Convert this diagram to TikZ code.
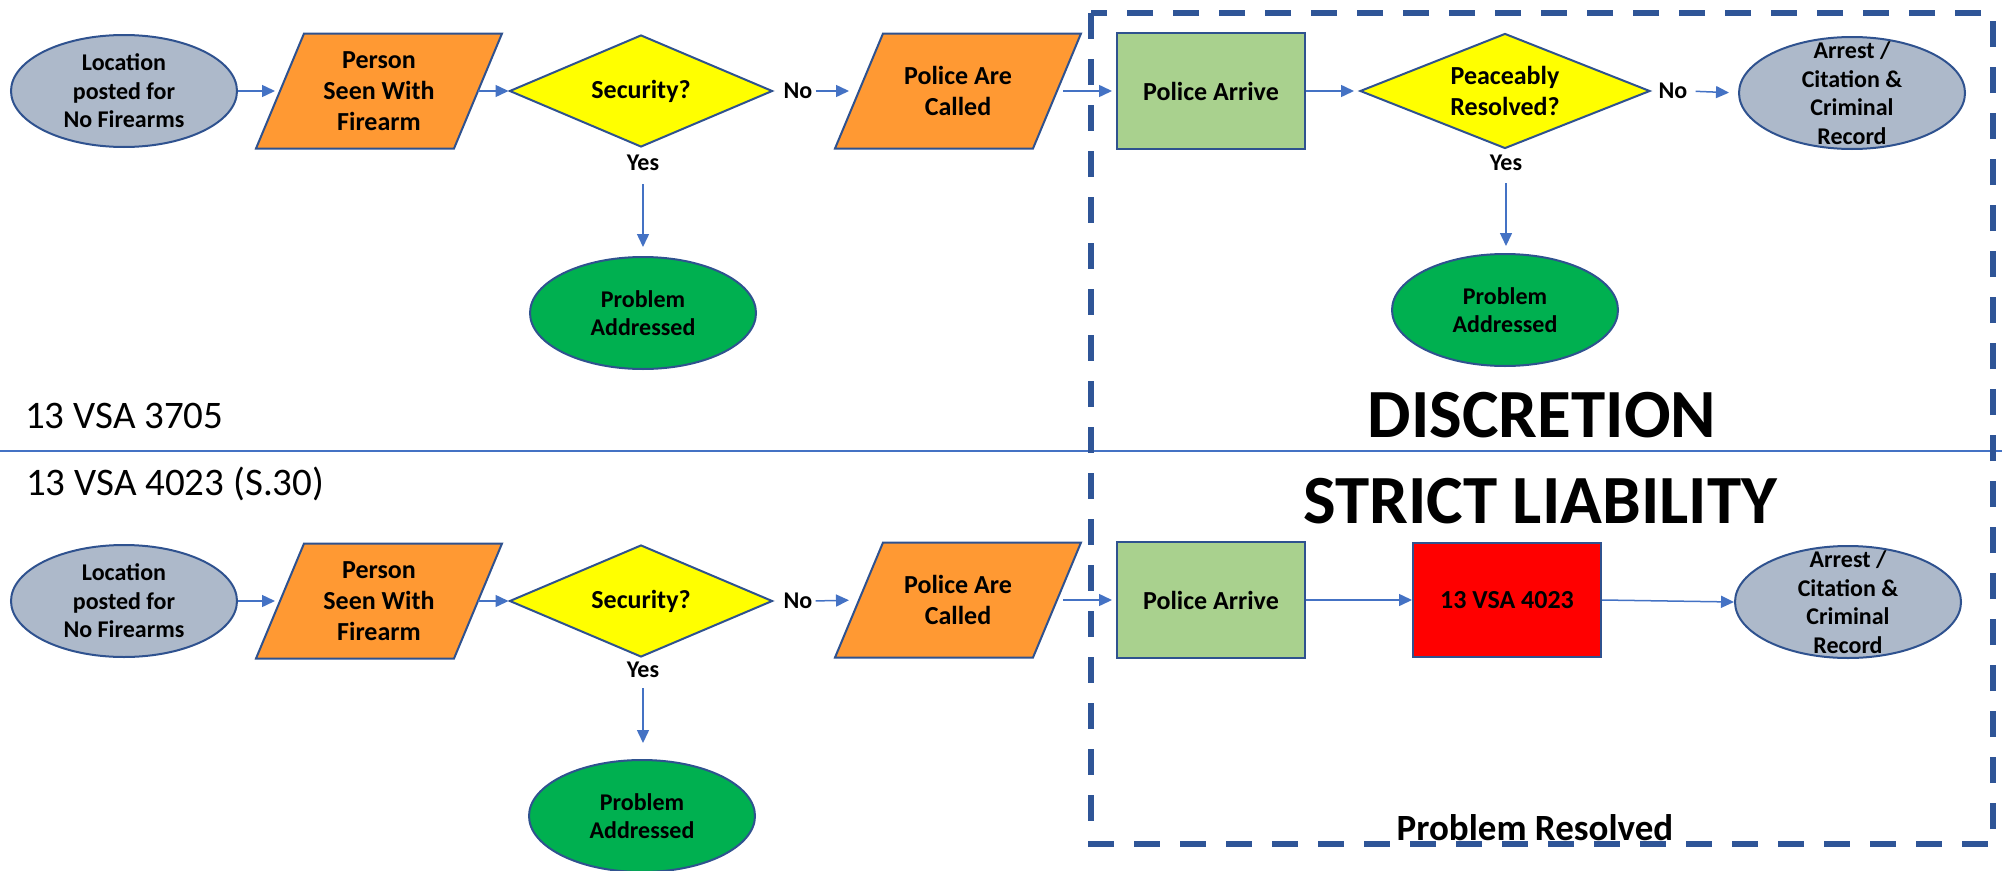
\documentclass[tikz,border=0pt]{standalone}
\usepackage{fontspec}
\setmainfont{Carlito}
\usetikzlibrary{shapes.geometric,arrows.meta,backgrounds}
\definecolor{gb}{HTML}{ADB9CA}
\definecolor{org}{HTML}{FF9933}
\definecolor{yel}{HTML}{FFFF00}
\definecolor{lgr}{HTML}{A9D18E}
\definecolor{dgr}{HTML}{00B050}
\definecolor{rd}{HTML}{FF0000}
\definecolor{outl}{HTML}{2F528F}
\definecolor{arr}{HTML}{4472C4}
\definecolor{dsh}{HTML}{2F5597}
\tikzset{
  basenode/.style={draw=outl, line width=2pt, inner sep=0pt, align=center,
    font=\bfseries\fontsize{26}{31}\selectfont},
  lbl/.style={font=\bfseries\fontsize{24}{28.5}\selectfont, align=center, inner sep=0pt},
  ellnode/.style={basenode, ellipse, minimum width=226pt, minimum height=112pt},
  paranode/.style={basenode, draw=none, rectangle, minimum width=196pt, minimum height=113pt},
  dianode/.style={basenode, diamond, fill=yel, aspect=2.35, minimum width=263pt, minimum height=112pt},
  boxnode/.style={basenode, rectangle, minimum width=188pt, minimum height=116pt},
  yn/.style={font=\bfseries\fontsize{24}{29}\selectfont, inner sep=0pt},
  conn/.style={draw=arr, line width=1.5pt, -{Triangle[length=13pt,width=12pt]}},
  paraback/.style={draw=outl, fill=org, line width=2pt, line join=miter}
}
\begin{document}
\begin{tikzpicture}[x=1pt,y=-1pt]
\useasboundingbox (0,0) rectangle (2002,870);

% ---------- top row ----------
\node[ellnode, fill=gb, label={[lbl]center:Location\\posted for\\No Firearms}] (e1) at (124,91) {};
\node[paranode] (p1) at (379,91) {Person\\Seen With\\Firearm};
\node[dianode] (d1) at (641,91) {Security?};
\node[yn] (n1) at (798,91) {No};
\node[paranode] (p2) at (958,91) {Police Are\\Called};
\node[boxnode, fill=lgr] (r1) at (1211,91) {Police Arrive};
\node[dianode, aspect=2.52, minimum width=290pt, minimum height=115pt] (d2) at (1505,91) {Peaceably\\Resolved?};
\node[yn] (n2) at (1673,91) {No};
\node[ellnode, fill=gb, label={[lbl]center:Arrest /\\Citation \&\\Criminal\\Record}] (e2) at (1852,93) {};
\node[yn] (y1) at (643,163) {Yes};
\node[ellnode, fill=dgr, label={[lbl]center:Problem\\Addressed}] (e3) at (643,313) {};
\node[yn] (y2) at (1506,163) {Yes};
\node[ellnode, fill=dgr, label={[lbl]center:Problem\\Addressed}] (e4) at (1505,310) {};

% ---------- bottom row ----------
\node[ellnode, fill=gb, label={[lbl]center:Location\\posted for\\No Firearms}] (e5) at (124,601) {};
\node[paranode] (p3) at (379,601) {Person\\Seen With\\Firearm};
\node[dianode] (d3) at (641,601) {Security?};
\node[yn] (n3) at (798,601) {No};
\node[paranode] (p4) at (958,600) {Police Are\\Called};
\node[boxnode, fill=lgr] (r2) at (1211,600) {Police Arrive};
\node[boxnode, fill=rd, minimum height=114pt] (r3) at (1507,600) {13 VSA 4023};
\node[ellnode, fill=gb, label={[lbl]center:Arrest /\\Citation \&\\Criminal\\Record}] (e6) at (1848,602) {};
\node[yn] (y3) at (643,670) {Yes};
\node[ellnode, fill=dgr, label={[lbl]center:Problem\\Addressed}] (e7) at (642,816) {};

% parallelogram bodies
\begin{scope}[on background layer]
\foreach \n in {p1,p2,p3,p4}
  \draw[paraback] ([xshift=24pt]\n.north west) -- ([xshift=24pt]\n.north east)
     -- ([xshift=-24pt]\n.south east) -- ([xshift=-24pt]\n.south west) -- cycle;
\end{scope}

% ---------- texts ----------
\node[anchor=base west, font=\fontsize{39}{45}\selectfont, inner sep=0pt] (law1) at (25,428) {13 VSA 3705};
\node[anchor=base west, font=\fontsize{39}{45}\selectfont, inner sep=0pt] (law2) at (26,495) {13 VSA 4023 (S.30)};
\node[anchor=base, font=\bfseries\fontsize{69}{80}\selectfont, inner sep=0pt] (disc) at (1542,437) {DISCRETION};
\node[anchor=base, font=\bfseries\fontsize{69}{80}\selectfont, inner sep=0pt] (strict) at (1540,523) {STRICT LIABILITY};
\node[anchor=base, font=\bfseries\fontsize{37}{44}\selectfont, inner sep=0pt] (res) at (1535,840) {Problem Resolved};

% ---------- connectors top ----------
\draw[conn, shorten >=5pt] (e1.east) -- (p1.west);
\draw[conn] (p1.east) -- (d1.west);
\draw[conn, shorten <=3pt, shorten >=10pt] (n1.east) -- (p2.west);
\draw[conn, shorten <=6pt, shorten >=4pt] (p2.east) -- (r1.west);
\draw[conn, shorten >=5pt] (r1.east) -- (d2.west);
\draw[conn, shorten <=8pt, shorten >=9pt] (n2.east) -- (e2.west);
\draw[conn, shorten <=13pt, shorten >=9pt] (y1.south) -- (y1.south |- e3.north);
\draw[conn, shorten <=12pt, shorten >=7pt] (y2.south) -- (y2.south |- e4.north);

% ---------- connectors bottom ----------
\draw[conn, shorten >=5pt] (e5.east) -- (p3.west);
\draw[conn] (p3.east) -- (d3.west);
\draw[conn, shorten <=3pt, shorten >=10pt] (n3.east) -- (p4.west);
\draw[conn, shorten <=6pt, shorten >=4pt] (p4.east) -- (r2.west);
\draw[conn] (r2.east) -- (r3.west);
\draw[conn] (r3.east) -- (e6.west);
\draw[conn, shorten <=10pt, shorten >=16pt] (y3.south) -- (y3.south |- e7.north);

% ---------- separator and frame ----------
\coordinate (hl) at (0,451);
\coordinate (hr) at (2002,451);
\draw[arr, line width=1.5pt] (hl) -- (hr);
\coordinate (fa) at (1091,13);
\coordinate (fb) at (1993,844);
\draw[dsh, line width=6pt, dash pattern=on 26pt off 20pt] (fa) rectangle (fb);
\end{tikzpicture}
\end{document}
